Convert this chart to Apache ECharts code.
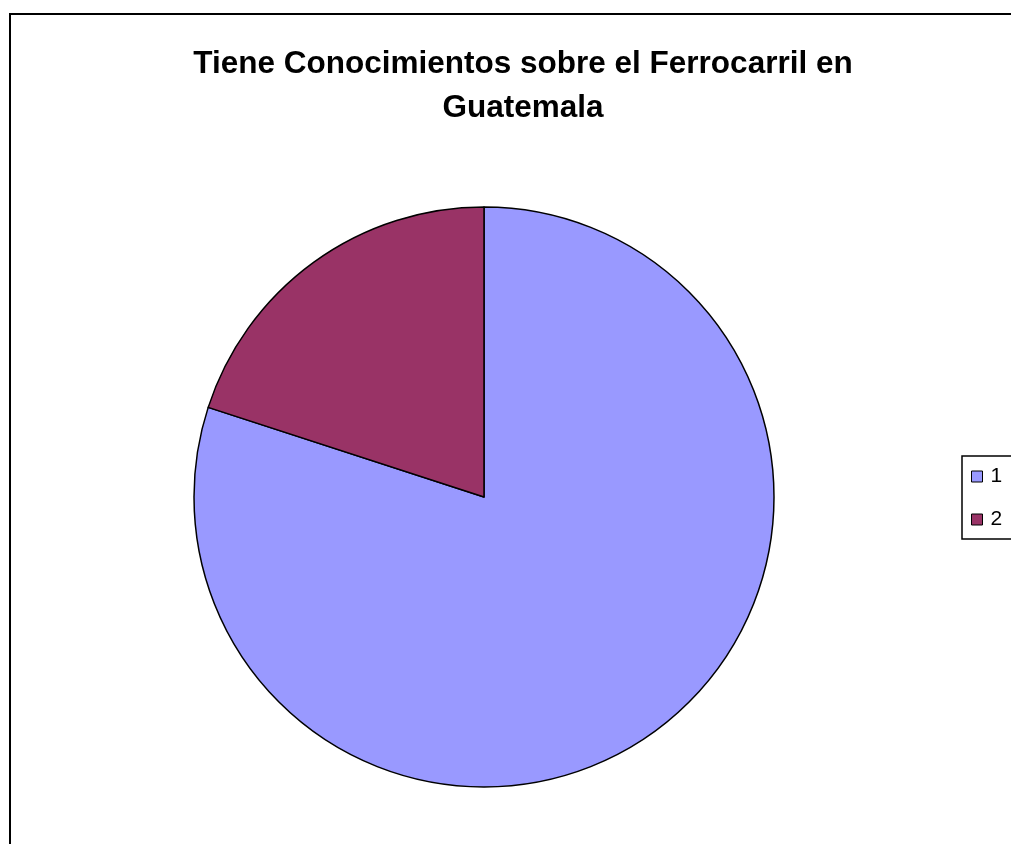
<!DOCTYPE html>
<html>
<head>
<meta charset="utf-8">
<script src="https://cdn.jsdelivr.net/npm/echarts@6/dist/echarts.min.js"></script>
<style>
  html, body { margin: 0; padding: 0; background: #fff; }
  #chart { width: 1011px; height: 844px; }
</style>
</head>
<body>
<div id="chart"></div>
<script>
const categories = ['1', '2']
const values = [80, 20]
const colors = ['#9999FF', '#993366']

const chart = echarts.init(document.getElementById('chart'))
chart.setOption({
  animation: false,
  title: {
    text: 'Tiene Conocimientos sobre el Ferrocarril en\nGuatemala',
    left: 518,
    top: 37,
    textAlign: 'center',
    textStyle: {
      fontFamily: 'Liberation Sans, Arial, sans-serif',
      fontSize: 31.5,
      fontWeight: 'bold',
      lineHeight: 44,
      color: '#000',
    },
  },
  graphic: [
    {
      type: 'rect',
      shape: { x: 10, y: 14, width: 1100, height: 900 },
      style: { fill: 'none', stroke: '#000', lineWidth: 2 },
      z: -1,
    },
  ],
  legend: {
    orient: 'vertical',
    left: 962,
    top: 456,
    data: categories,
    itemWidth: 11,
    itemHeight: 11,
    itemGap: 22,
    padding: [10, 40, 9, 9],
    borderColor: '#000',
    borderWidth: 1.5,
    icon: 'rect',
    itemStyle: { borderColor: '#000', borderWidth: 1 },
    textStyle: {
      fontFamily: 'Liberation Sans, Arial, sans-serif',
      fontSize: 21,
      lineHeight: 21,
      color: '#000',
      padding: [0, 0, 0, 3],
    },
  },
  series: [
    {
      type: 'pie',
      center: [484, 497],
      radius: 290,
      startAngle: 90,
      clockwise: true,
      label: { show: false },
      labelLine: { show: false },
      emphasis: { disabled: true },
      itemStyle: { borderColor: '#000', borderWidth: 1.5 },
      data: categories.map((c, i) => ({
        name: c,
        value: values[i],
        itemStyle: { color: colors[i] },
      })),
    },
  ],
})
</script>
</body>
</html>
